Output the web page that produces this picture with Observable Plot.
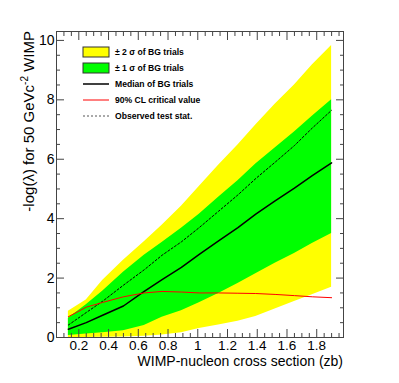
<!DOCTYPE html>
<html><head><meta charset="utf-8">
<script src="https://cdn.jsdelivr.net/npm/d3@7"></script>
<script src="https://cdn.jsdelivr.net/npm/@observablehq/plot@0.6"></script>
<style>body{margin:0;background:#fff} svg{display:block}</style>
</head><body><div id="chart"></div>
<script>
// Cross section values (zb)
const crossSection = [0.13, 0.25, 0.36, 0.5, 0.64, 0.76, 0.89, 1.01, 1.14, 1.27, 1.39, 1.52, 1.65, 1.77, 1.9];
// BG trial bands
const yellowLow  = [0.0, 0.0, 0.01, 0.02, 0.04, 0.08, 0.16, 0.3, 0.42, 0.55, 0.71, 0.96, 1.21, 1.44, 1.69];
const yellowHigh = [0.88, 1.26, 1.92, 2.6, 3.22, 3.78, 4.42, 5.08, 5.8, 6.48, 7.15, 7.85, 8.5, 9.17, 9.83];
const greenLow   = [0.07, 0.12, 0.16, 0.23, 0.4, 0.68, 0.9, 1.17, 1.48, 1.82, 2.15, 2.5, 2.83, 3.16, 3.5];
const greenHigh  = [0.65, 1.1, 1.56, 2.2, 2.77, 3.2, 3.68, 4.15, 4.72, 5.28, 5.84, 6.38, 6.92, 7.45, 8.0];
const medianBG   = [0.28, 0.5, 0.75, 1.06, 1.55, 1.95, 2.36, 2.8, 3.25, 3.7, 4.15, 4.6, 5.03, 5.45, 5.88];
const criticalCL = [0.7, 1.02, 1.18, 1.37, 1.5, 1.55, 1.53, 1.5, 1.5, 1.49, 1.48, 1.45, 1.41, 1.37, 1.34];
const observed   = [0.42, 0.84, 1.22, 1.76, 2.28, 2.77, 3.22, 3.7, 4.25, 4.8, 5.35, 5.9, 6.46, 7.05, 7.65];

// Axis ticks
const xTickLabels = [0.2, 0.4, 0.6, 0.8, 1.0, 1.2, 1.4, 1.6, 1.8];
const yTickLabels = [0, 2, 4, 6, 8, 10];

const legendLabels = ["\u00b1 2 \u03c3 of BG trials", "\u00b1 1 \u03c3 of BG trials", "Median of BG trials", "90% CL critical value", "Observed test stat."];

const rows = crossSection.map((x, i) => ({
  x, lo2: yellowLow[i], hi2: yellowHigh[i], lo1: greenLow[i], hi1: greenHigh[i],
  med: medianBG[i], crit: criticalCL[i], obs: observed[i]
}));

const xMinor = d3.range(1, 40).map(i => +(i * 0.05).toFixed(2)).filter(v => v > 0.06 && v < 1.97 && !xTickLabels.some(t => Math.abs(t - v) < 1e-6));
const yMinor = d3.range(1, 21).map(i => i * 0.5).filter(v => !yTickLabels.includes(v));

const axisColor = "#444";
const tickOnly = {tickFormat: () => "", label: null, stroke: axisColor};

const svg = Plot.plot({
  width: 399, height: 383,
  marginLeft: 56, marginRight: 56, marginTop: 31, marginBottom: 46,
  style: {fontFamily: "'Liberation Sans', Arial, sans-serif", fontSize: "14px", background: "white", color: "black"},
  x: {domain: [0.05, 1.98]},
  y: {domain: [0, 10.3]},
  marks: [
    Plot.areaY(rows, {x: "x", y1: "lo2", y2: "hi2", fill: "#ffff00"}),
    Plot.areaY(rows, {x: "x", y1: "lo1", y2: "hi1", fill: "#00ff00"}),
    Plot.line(rows, {x: "x", y: "obs", stroke: "black", strokeWidth: 1, strokeDasharray: "2,2"}),
    Plot.line(rows, {x: "x", y: "med", stroke: "black", strokeWidth: 1.5}),
    Plot.line(rows, {x: "x", y: "crit", stroke: "#ff0000", strokeWidth: 1}),
    // ticks inside frame
    Plot.axisX(xTickLabels, {anchor: "bottom", tickSize: 8, dy: -8, ...tickOnly}),
    Plot.axisX(xMinor, {anchor: "bottom", tickSize: 4, dy: -4, ...tickOnly}),
    Plot.axisX(xTickLabels, {anchor: "top", tickSize: 8, dy: 8, ...tickOnly}),
    Plot.axisX(xMinor, {anchor: "top", tickSize: 4, dy: 4, ...tickOnly}),
    Plot.axisY(yTickLabels, {anchor: "left", tickSize: 8, dx: 8, ...tickOnly}),
    Plot.axisY(yMinor, {anchor: "left", tickSize: 4, dx: 4, ...tickOnly}),
    Plot.axisY(yTickLabels, {anchor: "right", tickSize: 8, dx: -8, ...tickOnly}),
    Plot.axisY(yMinor, {anchor: "right", tickSize: 4, dx: -4, ...tickOnly}),
    // labels
    Plot.axisX(xTickLabels, {anchor: "bottom", tickSize: 0, tickPadding: 3, fontSize: 13.5, label: null,
      tickFormat: d => Math.abs(d - 1) < 1e-9 ? "1" : d.toFixed(1)}),
    Plot.axisY(yTickLabels, {anchor: "left", tickSize: 0, tickPadding: 2, fontSize: 14, label: null}),
    Plot.frame({stroke: axisColor})
  ]
});

const s = d3.select(svg);
// Y title
const yt = s.append("text")
  .attr("transform", "translate(33.5,31) rotate(-90)")
  .attr("text-anchor", "end")
  .attr("font-size", 15)
  .attr("fill", "black");
yt.append("tspan").text("-log(\u03bb) for 50 GeVc");
yt.append("tspan").attr("font-size", 10).attr("dy", -6).text("-2");
yt.append("tspan").attr("dy", 6).text(" WIMP");
// X title
s.append("text")
  .attr("x", 343).attr("y", 366)
  .attr("text-anchor", "end")
  .attr("font-size", 14)
  .attr("fill", "black")
  .text("WIMP-nucleon cross section (zb)");

// Legend
const lg = s.append("g").attr("font-size", 8.6).attr("font-weight", "bold").attr("text-anchor", "start");
const rowY = [52, 68, 84, 100, 116];
lg.append("rect").attr("x", 83).attr("y", 47).attr("width", 26).attr("height", 10).attr("fill", "#ffff00").attr("stroke", "#333");
lg.append("rect").attr("x", 83).attr("y", 63).attr("width", 26).attr("height", 10).attr("fill", "#00ff00").attr("stroke", "#333");
lg.append("line").attr("x1", 83).attr("x2", 109).attr("y1", rowY[2]).attr("y2", rowY[2]).attr("stroke", "black").attr("stroke-width", 1.5);
lg.append("line").attr("x1", 83).attr("x2", 109).attr("y1", rowY[3]).attr("y2", rowY[3]).attr("stroke", "#ff0000").attr("stroke-width", 1);
lg.append("line").attr("x1", 83).attr("x2", 109).attr("y1", rowY[4]).attr("y2", rowY[4]).attr("stroke", "#555").attr("stroke-width", 1).attr("stroke-dasharray", "2,2");
legendLabels.forEach((t, i) => {
  lg.append("text").attr("x", 115).attr("y", rowY[i]).attr("dy", "0.35em").attr("text-anchor", "start").attr("fill", "black").text(t);
});

document.getElementById("chart").appendChild(svg);
</script>
</body></html>
